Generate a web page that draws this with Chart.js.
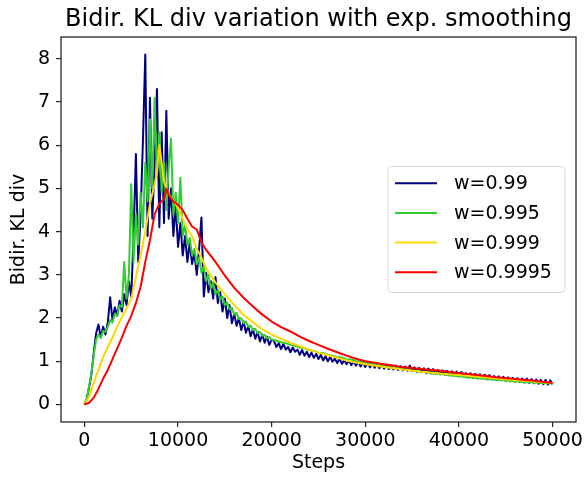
<!DOCTYPE html>
<html>
<head>
<meta charset="utf-8">
<script src="https://cdn.jsdelivr.net/npm/chart.js@4/dist/chart.umd.min.js"></script>
<style>
  html, body { margin: 0; padding: 0; background: #fff; }
  #canvas-container { width: 586px; height: 477px; }
</style>
</head>
<body>
<div id="canvas-container"><canvas id="chart" width="586" height="477"></canvas></div>
<script>
// x grids: w=0.99 every 250 steps; w=0.995 every 250 up to 20000, then every 500
const steps250 = [];
for (let s = 0; s <= 50000; s += 250) steps250.push(s);
const stepsGreen = [];
for (let s = 0; s <= 20000; s += 250) stepsGreen.push(s);
for (let s = 20500; s <= 50000; s += 500) stepsGreen.push(s);

// w=0.99
const w099 = [
  0, 0.12, 0.4, 0.7, 1.2, 1.65, 1.85, 1.55,
  1.8, 1.62, 1.9, 2.48, 1.95, 2.25, 2.05, 2.4,
  2.15, 2.55, 2.3, 2.85, 2.5, 3.9, 5.8, 3.3,
  4.4, 6.1, 8.1, 3.9, 7.1, 4.3, 5.6, 7.3,
  4.1, 6.3, 4.2, 6.8, 4.3, 5.0, 3.9, 4.6,
  3.65, 4.2, 3.45, 3.9, 3.3, 3.75, 3.25, 3.5,
  3.0, 3.6, 4.33, 2.5, 3.05, 2.6, 2.85, 2.45,
  2.95, 2.35, 2.6, 2.15, 2.45, 2.0, 2.3, 1.88,
  2.1, 1.82, 2.0, 1.72, 1.92, 1.66, 1.82, 1.58,
  1.74, 1.52, 1.68, 1.46, 1.62, 1.43, 1.57, 1.38,
  1.5,
  1.47, 1.33, 1.42, 1.28, 1.4, 1.27, 1.33, 1.21,
  1.32, 1.22, 1.27, 1.15, 1.26, 1.13, 1.22, 1.1,
  1.2, 1.08, 1.17, 1.05, 1.15, 1.02, 1.12, 1.0,
  1.1, 0.99, 1.06, 0.96, 1.06, 0.94, 1.03, 0.93,
  1.02, 0.91, 1.0, 0.9, 0.99, 0.88, 0.97, 0.87,
  0.96, 0.86, 0.95, 0.85, 0.94, 0.84, 0.93, 0.83,
  0.92, 0.82, 0.9, 0.81, 0.9, 0.8, 0.89, 0.79,
  0.88, 0.78, 0.9, 0.77, 0.86, 0.76, 0.85, 0.75,
  0.84, 0.73, 0.83, 0.72, 0.82, 0.71, 0.8, 0.7,
  0.79, 0.69, 0.78, 0.68, 0.77, 0.67, 0.76, 0.66,
  0.75, 0.65, 0.73, 0.64, 0.72, 0.62, 0.71, 0.61,
  0.7, 0.6, 0.69, 0.59, 0.68, 0.58, 0.66, 0.57,
  0.65, 0.56, 0.64, 0.55, 0.63, 0.54, 0.62, 0.53,
  0.61, 0.52, 0.6, 0.51, 0.6, 0.5, 0.59, 0.49,
  0.58, 0.48, 0.57, 0.47, 0.57, 0.46, 0.56, 0.47
];

// w=0.995
const w0995 = [
  0, 0.15, 0.42, 0.72, 1.15, 1.5, 1.62, 1.55,
  1.7, 1.68, 1.8, 1.95, 1.9, 2.1, 2.05, 2.3,
  2.25, 3.3, 2.45, 3.0, 5.1, 3.3, 4.4, 3.7,
  4.9, 4.1, 5.6, 4.7, 6.6, 5.0, 7.1, 5.3,
  6.3, 4.9, 5.6, 4.5, 5.5, 6.15, 4.4, 4.9,
  4.2, 5.25, 3.9, 4.15, 3.7, 3.85, 3.45, 3.6,
  3.25, 3.4, 3.05, 3.2, 2.85, 3.0, 2.7, 2.82,
  2.55, 2.65, 2.42, 2.5, 2.3, 2.36, 2.2, 2.24,
  2.08, 2.12, 1.98, 2.0, 1.88, 1.92, 1.8, 1.83,
  1.72, 1.75, 1.65, 1.68, 1.59, 1.61, 1.53, 1.56,
  1.5,
  1.48, 1.44, 1.42, 1.38, 1.36, 1.32, 1.3, 1.26, 1.24, 1.2,
  1.19, 1.15, 1.13, 1.1, 1.09, 1.05, 1.04, 1.0, 0.99, 0.96,
  0.95, 0.92, 0.91, 0.88, 0.87, 0.85, 0.84, 0.81, 0.81, 0.78,
  0.78, 0.75, 0.75, 0.72, 0.72, 0.7, 0.7, 0.67, 0.67, 0.65,
  0.65, 0.62, 0.63, 0.6, 0.61, 0.58, 0.59, 0.56, 0.57, 0.55,
  0.55, 0.53, 0.54, 0.51, 0.52, 0.5, 0.51, 0.49, 0.5, 0.48
];

// w=0.999
const w0999Steps = [
  0, 500, 1000, 1500, 2000, 2500, 3000, 3500, 4000, 4500, 5000, 5500, 6000, 6500, 7000, 7500,
  7750, 8000, 8250, 8500,
  9000, 9500, 10000, 10500, 11000, 11500, 12000, 12500, 13000,
  14000, 15000, 16000, 17000, 18000, 19000, 20000, 21000, 22000, 23000, 24000, 25000, 26000, 27000, 28000, 29000, 30000,
  32000, 34000, 36000, 38000, 40000, 42000, 44000, 46000, 48000, 50000
];
const w0999 = [
  0, 0.18, 0.5, 0.8, 1.1, 1.33, 1.55, 1.8, 2.02, 2.22, 2.45, 2.95, 3.45, 4.0, 4.65, 5.1,
  5.4, 6.0, 5.6, 5.15,
  4.88, 4.72, 4.55, 4.3, 4.05, 3.9, 3.6, 3.4, 3.15,
  2.82, 2.55, 2.3, 2.07, 1.9, 1.74, 1.62, 1.52, 1.43, 1.35, 1.27, 1.2, 1.14, 1.08, 1.02, 0.97, 0.93,
  0.87, 0.81, 0.76, 0.72, 0.68, 0.64, 0.6, 0.56, 0.53, 0.5
];

// w=0.9995
const w09995Steps = [
  0, 500, 1000, 1500, 2000, 2500, 3000, 3500, 4000, 4500, 5000, 5500, 6000, 6500, 7000, 7500, 8000,
  8500, 8750, 9000, 9500, 10000, 10500, 11000, 11500, 12000, 12500, 13000,
  14000, 15000, 16000, 17000, 18000, 19000, 20000, 21000, 22000, 23000, 24000, 25000, 26000, 27000, 28000, 29000, 30000,
  32000, 34000, 36000, 38000, 40000, 42000, 44000, 46000, 48000, 50000
];
const w09995 = [
  0, 0.04, 0.16, 0.36, 0.6, 0.8, 1.05, 1.3, 1.55, 1.82, 2.05, 2.35, 2.72, 3.3, 3.8, 4.4, 4.65,
  4.75, 5.0, 4.85, 4.7, 4.62, 4.5, 4.3, 4.12, 4.05, 3.75, 3.58,
  3.3, 2.98, 2.7, 2.47, 2.27, 2.08, 1.92, 1.79, 1.69, 1.57, 1.47, 1.38, 1.29, 1.21, 1.13, 1.06, 1.0,
  0.93, 0.87, 0.82, 0.78, 0.73, 0.68, 0.63, 0.59, 0.55, 0.5
];

const xTicks = [0, 10000, 20000, 30000, 40000, 50000];
const yTicks = [0, 1, 2, 3, 4, 5, 6, 7, 8];

const FONT = 'DejaVu Sans';
const AXIS = '#262626';

function points(steps, vals) {
  return steps.map((s, i) => ({ x: s, y: vals[i] }));
}

function series(label, color, steps, vals, order) {
  return {
    label: label,
    data: points(steps, vals),
    borderColor: color,
    backgroundColor: color,
    borderWidth: 2,
    borderJoinStyle: 'round',
    pointRadius: 0,
    tension: 0,
    fill: false,
    order: order,
  };
}

// full box around the plot, drawn over the lines like matplotlib spines
const framePlugin = {
  id: 'frame',
  afterDatasetsDraw(chart) {
    const { ctx, chartArea: a } = chart;
    ctx.save();
    ctx.strokeStyle = AXIS;
    ctx.lineWidth = 1.3;
    ctx.strokeRect(a.left, a.top, a.right - a.left, a.bottom - a.top);
    ctx.restore();
  }
};

// legend box, "center right" inside the axes
const legendPlugin = {
  id: 'boxLegend',
  afterDraw(chart) {
    const { ctx, chartArea: a } = chart;
    const w = 177, h = 126, r = 4;
    const x = a.right - 11 - w;
    const y = (a.top + a.bottom) / 2 - h / 2;
    ctx.save();
    ctx.beginPath();
    ctx.moveTo(x + r, y);
    ctx.arcTo(x + w, y, x + w, y + h, r);
    ctx.arcTo(x + w, y + h, x, y + h, r);
    ctx.arcTo(x, y + h, x, y, r);
    ctx.arcTo(x, y, x + w, y, r);
    ctx.closePath();
    ctx.fillStyle = 'rgba(255,255,255,0.8)';
    ctx.fill();
    ctx.strokeStyle = '#d6d6d6';
    ctx.lineWidth = 1;
    ctx.stroke();
    chart.data.datasets.forEach((ds, i) => {
      const ly = y + 16.7 + i * 29.7;
      ctx.strokeStyle = ds.borderColor;
      ctx.lineWidth = 2;
      ctx.beginPath();
      ctx.moveTo(x + 7, ly);
      ctx.lineTo(x + 49, ly);
      ctx.stroke();
      ctx.fillStyle = '#000';
      ctx.font = '19px "' + FONT + '"';
      ctx.textBaseline = 'middle';
      ctx.fillText(ds.label, x + 66, ly + 1);
    });
    ctx.restore();
  }
};

function createChart() {
  const ctx = document.getElementById('chart').getContext('2d');
  Chart.defaults.font.family = FONT;
  Chart.defaults.color = '#000';
  new Chart(ctx, {
    type: 'line',
    data: {
      datasets: [
        series('w=0.99', '#000080', steps250, w099, 4),
        series('w=0.995', '#32CD32', stepsGreen, w0995, 3),
        series('w=0.999', '#FFD700', w0999Steps, w0999, 2),
        series('w=0.9995', '#FF0000', w09995Steps, w09995, 1),
      ],
    },
    options: {
      responsive: false,
      animation: false,
      events: [],
      layout: { padding: { right: 10, left: 0, top: 0, bottom: 0 } },
      plugins: {
        legend: { display: false },
        tooltip: { enabled: false },
        title: {
          display: true,
          text: 'Bidir. KL div variation with exp. smoothing',
          fullSize: false,
          color: '#000',
          font: { size: 24, weight: 'normal' },
          padding: { top: 5.6, bottom: 2.6 },
        },
      },
      scales: {
        x: {
          type: 'linear',
          min: -2500,
          max: 52500,
          afterBuildTicks: axis => { axis.ticks = xTicks.map(v => ({ value: v })); },
          afterFit: scale => { scale.height = 55; scale.paddingLeft = 0; scale.paddingRight = 0; },
          grid: { display: true, drawOnChartArea: false, drawTicks: true, tickLength: 5, color: AXIS, lineWidth: 1.2 },
          border: { display: false },
          ticks: { font: { size: 19 }, padding: 3, color: '#000', maxRotation: 0, callback: v => String(v) },
          title: { display: true, text: 'Steps', font: { size: 19 }, color: '#000', padding: { top: 0, bottom: 3 } },
        },
        y: {
          type: 'linear',
          min: -0.405,
          max: 8.505,
          afterBuildTicks: axis => { axis.ticks = yTicks.map(v => ({ value: v })); },
          afterFit: scale => { scale.width = 61; scale.paddingTop = 0; scale.paddingBottom = 0; },
          grid: { display: true, drawOnChartArea: false, drawTicks: true, tickLength: 5, color: AXIS, lineWidth: 1.2 },
          border: { display: false },
          ticks: { font: { size: 19 }, padding: 6, color: '#000', callback: v => String(v) },
          title: { display: true, text: 'Bidir. KL div', font: { size: 19 }, color: '#000', padding: { top: 8, bottom: 0 } },
        },
      },
    },
    plugins: [framePlugin, legendPlugin],
  });
}

createChart();
</script>
</body>
</html>
